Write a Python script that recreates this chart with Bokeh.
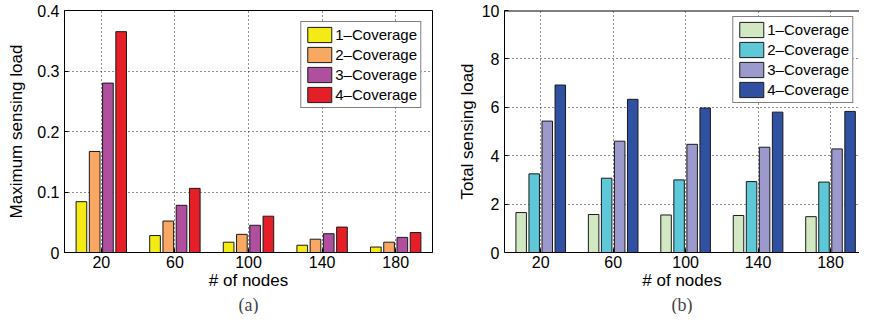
from bokeh.plotting import figure
from bokeh.layouts import row
from bokeh.models import (FixedTicker, Legend, LegendItem, Title, Span,
                          Range1d, ColumnDataSource)
from bokeh.embed import file_html
from bokeh.resources import INLINE

# ---------------- data ----------------
nodes = ["20", "60", "100", "140", "180"]
series = ["1\u2013Coverage", "2\u2013Coverage", "3\u2013Coverage", "4\u2013Coverage"]

max_load_1 = [0.084, 0.028, 0.017, 0.012, 0.009]
max_load_2 = [0.167, 0.052, 0.030, 0.022, 0.017]
max_load_3 = [0.280, 0.078, 0.045, 0.031, 0.025]
max_load_4 = [0.365, 0.106, 0.060, 0.042, 0.033]

total_load_1 = [1.65, 1.57, 1.55, 1.53, 1.48]
total_load_2 = [3.25, 3.07, 3.00, 2.93, 2.91]
total_load_3 = [5.43, 4.60, 4.47, 4.35, 4.28]
total_load_4 = [6.92, 6.33, 5.97, 5.80, 5.83]

colors_a = ["#F4EA16", "#F8A862", "#B04F9E", "#E41F27"]
colors_b = ["#D2E8C3", "#5EC8D9", "#9C9ACD", "#3050A2"]

FONT = "Liberation Sans"
SERIF = "Liberation Serif"

offsets = [-0.27, -0.09, 0.09, 0.27]
bar_w = 0.145
xpos = list(range(1, len(nodes) + 1))


def make_panel(values, colors, ylabel, yticks, ymax, xend, tag, width,
               mb_left, mb_right, legend_margin, ylabel_standoff, full_box):
    p = figure(width=width, height=314, output_backend="svg",
               toolbar_location=None,
               x_range=Range1d(0.5, xend), y_range=Range1d(0, ymax),
               min_border_left=mb_left, min_border_right=mb_right,
               min_border_top=10, min_border_bottom=58)
    p.background_fill_color = "white"
    p.border_fill_color = "white"
    if full_box:
        p.outline_line_color = "black"
        p.outline_line_width = 1
    else:
        p.outline_line_color = None
        p.add_layout(Span(location=ymax, dimension="width",
                          line_color="black", line_width=2))

    items = []
    for k, (vals, col) in enumerate(zip(values, colors)):
        src = ColumnDataSource(dict(x=[xx + offsets[k] for xx in xpos], top=vals))
        r = p.vbar(x="x", top="top", width=bar_w, bottom=0, source=src,
                   fill_color=col, line_color="#1a1a1a", line_width=1)
        items.append(LegendItem(label=series[k], renderers=[r]))

    # axes
    p.xaxis.ticker = FixedTicker(ticks=xpos)
    p.xaxis.major_label_overrides = {xx: n for xx, n in zip(xpos, nodes)}
    p.yaxis.ticker = FixedTicker(ticks=yticks)
    if ymax < 1:
        p.yaxis.major_label_overrides = {0: "0"}
    for ax in (p.xaxis[0], p.yaxis[0]):
        ax.axis_line_color = "black"
        ax.major_tick_line_color = "black"
        ax.major_tick_in = 4
        ax.major_tick_out = 0
        ax.minor_tick_line_color = None
        ax.major_label_text_font = FONT
        ax.major_label_text_font_size = "16px"
        ax.major_label_text_color = "black"
        ax.axis_label_text_font = FONT
        ax.axis_label_text_font_size = "17px"
        ax.axis_label_text_font_style = "normal"
        ax.axis_label_text_color = "black"
        ax.major_label_standoff = 5
    p.xaxis.axis_label = "# of nodes"
    p.xaxis.axis_label_standoff = 0
    p.xaxis.major_label_standoff = 3
    p.yaxis.axis_label = ylabel
    p.yaxis.axis_label_standoff = ylabel_standoff

    # grid
    for g in (p.xgrid[0], p.ygrid[0]):
        g.grid_line_color = "#222222"
        g.grid_line_dash = "1 3"
        g.grid_line_width = 1
    p.xgrid.ticker = FixedTicker(ticks=xpos)
    p.ygrid.ticker = FixedTicker(ticks=yticks)

    legend = Legend(items=items, location="top_right")
    legend.margin = legend_margin
    legend.border_line_color = "black"
    legend.border_line_width = 1
    legend.background_fill_color = "white"
    legend.background_fill_alpha = 1
    legend.label_text_font = FONT
    legend.label_text_font_size = "15px"
    legend.label_text_color = "black"
    legend.glyph_width = 30
    legend.glyph_height = 19
    legend.label_height = 19
    legend.label_standoff = 1
    legend.spacing = 1
    legend.padding = 3
    p.add_layout(legend, "center")

    p.add_layout(Title(text=tag, align="center", text_font=SERIF,
                       text_font_size="18px", text_font_style="normal",
                       standoff=0, offset=0), "below")
    return p


pa = make_panel([max_load_1, max_load_2, max_load_3, max_load_4], colors_a,
                "Maximum sensing load", [0, 0.1, 0.2, 0.3, 0.4], 0.4, 5.5, "(a)",
                450, 64, 18, 11, 8, True)
pb = make_panel([total_load_1, total_load_2, total_load_3, total_load_4], colors_b,
                "Total sensing load", [0, 2, 4, 6, 8, 10], 10, 5.4, "(b)",
                409, 54, 0, 6, 2, False)

layout = row(pa, pb)
open("out.html", "w").write(file_html(layout, INLINE))
